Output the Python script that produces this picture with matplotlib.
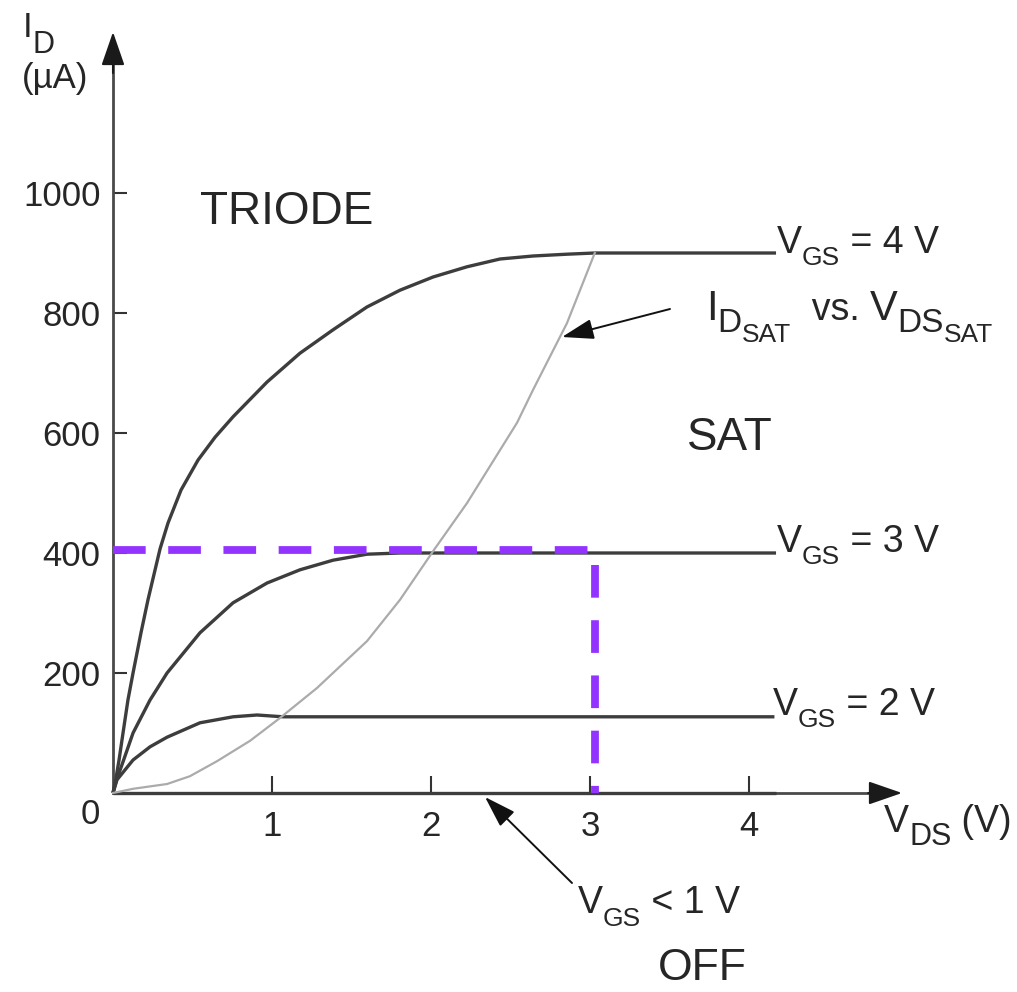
import matplotlib
matplotlib.use("Agg")
import matplotlib.pyplot as plt
from matplotlib.transforms import offset_copy

plt.rcParams['font.family'] = ['Liberation Sans', 'DejaVu Sans']

# ---------------- data ----------------
vds_vgs4 = [0, 0.019, 0.038, 0.063, 0.094, 0.126, 0.176, 0.220, 0.245, 0.296, 0.346,
            0.428, 0.535, 0.642, 0.755, 0.969, 1.176, 1.384, 1.597, 1.805, 2.013,
            2.226, 2.434, 2.642, 2.855, 3.03, 4.17]
id_vgs4 = [0, 25, 55, 100, 155, 200, 267, 322, 350, 407, 450,
           505, 555, 593, 627, 685, 733, 772, 810, 838, 860,
           877, 890, 895, 898, 900, 900]

vds_vgs3 = [0, 0.02, 0.063, 0.126, 0.233, 0.340, 0.547, 0.755, 0.969, 1.176,
            1.384, 1.597, 1.805, 4.17]
id_vgs3 = [0, 20, 52, 100, 155, 200, 267, 317, 350, 372,
           388, 398, 400, 400]

vds_vgs2 = [0, 0.025, 0.126, 0.233, 0.340, 0.547, 0.755, 0.906, 1.069, 4.16]
id_vgs2 = [0, 22, 55, 77, 93, 117, 127, 130, 127, 127]

vds_off = [0, 4.17]
id_off = [0, 0]

vds_sat = [0, 0.126, 0.340, 0.484, 0.654, 0.862, 1.050, 1.283, 1.472, 1.597,
           1.805, 2.013, 2.226, 2.541, 2.642, 2.855, 3.03]
id_sat = [0, 7, 15, 28, 53, 87, 125, 175, 222, 253,
          322, 403, 483, 617, 672, 783, 900]

op_vds = 3.03
op_id = 405

x_ticks = [1, 2, 3, 4]
x_tick_labels = ['1', '2', '3', '4']
y_ticks = [200, 400, 600, 800, 1000]
y_tick_labels = ['200', '400', '600', '800', '1000']

# ---------------- figure ----------------
W, H, DPI = 1017, 992, 100
X0, Y0 = 113, 793            # pixel position of the origin
PX_X, PX_Y = 159.0, 0.6      # pixels per unit

fig = plt.figure(figsize=(W / DPI, H / DPI), dpi=DPI)
ax = fig.add_axes([0, 0, 1, 1])
ax.set_xlim(-X0 / PX_X, (W - X0) / PX_X)
ax.set_ylim((Y0 - H) / PX_Y, Y0 / PX_Y)

TXT = '#262626'
CURVE = '#3d3d3d'
AXC = '#4a4a4a'
PURPLE = '#9333ff'

for s in ['top', 'right']:
    ax.spines[s].set_visible(False)
ax.spines['left'].set_position(('data', 0))
ax.spines['bottom'].set_position(('data', 0))
ax.spines['left'].set_bounds(0, 1235)
ax.spines['bottom'].set_bounds(0, 4.85)
for s in ['left', 'bottom']:
    ax.spines[s].set_color(AXC)
    ax.spines[s].set_linewidth(2.0)

# axis arrowheads
arrow_kw = dict(arrowstyle='-|>,head_length=1.3,head_width=0.45', color='#1a1a1a',
                lw=1.5, mutation_scale=16, shrinkA=0, shrinkB=0)
ax.annotate('', xy=(0, (Y0 - 32) / PX_Y), xytext=(0, 1200), arrowprops=arrow_kw,
            annotation_clip=False)
ax.annotate('', xy=((902 - X0) / PX_X, 0), xytext=(4.75, 0), arrowprops=arrow_kw,
            annotation_clip=False)

ax.set_xticks(x_ticks)
ax.set_xticklabels(x_tick_labels)
ax.set_yticks(y_ticks)
ax.set_yticklabels(y_tick_labels)
ax.tick_params(axis='x', direction='in', length=12, width=1.5, color='#333333',
               pad=12, labelsize=25, labelcolor=TXT)
ax.tick_params(axis='y', direction='in', length=10, width=1.5, color='#333333',
               pad=9, labelsize=25, labelcolor=TXT)
ax.text(-23 / PX_X, -22 / PX_Y, '0', fontsize=25, color=TXT, ha='center', va='center')

# curves
ax.plot(vds_off, id_off, color=CURVE, lw=2.4, solid_capstyle='butt', zorder=3)
ax.plot(vds_vgs2, id_vgs2, color=CURVE, lw=2.4, solid_capstyle='butt', zorder=3)
ax.plot(vds_vgs3, id_vgs3, color=CURVE, lw=2.4, solid_capstyle='butt', zorder=3)
ax.plot(vds_vgs4, id_vgs4, color=CURVE, lw=2.4, solid_capstyle='butt', zorder=3)
ax.plot(vds_sat, id_sat, color='#ababab', lw=1.6, zorder=4)

# operating point dashed purple lines
ax.plot([0, op_vds, op_vds], [op_id, op_id, 0], color=PURPLE, lw=5.6,
        dashes=(4.2, 2.9), zorder=5, solid_joinstyle='miter')

renderer = fig.canvas.get_renderer()


def rich(x, y, pieces):
    """pieces: (text, fontsize, baseline offset in pixels)"""
    dx = 0.0
    for s, size, dy_px in pieces:
        tr = offset_copy(ax.transData, fig=fig, x=dx, y=dy_px * 72.0 / DPI, units='points')
        t = ax.text(x, y, s, fontsize=size, transform=tr, ha='left', va='baseline',
                    color=TXT)
        dx += t.get_window_extent(renderer).width * 72.0 / DPI


def px(xp, yp):
    return (xp - X0) / PX_X, (Y0 - yp) / PX_Y


# axis labels
rich(*px(23, 37), [('I', 25, 0), ('D', 22, -16)])
rich(*px(22, 88), [('(\u00b5A)', 25, 0)])
rich(*px(884, 832), [('V', 27, 0), ('DS', 22, -13), (' (V)', 27, 0)])

# curve labels
rich(*px(777, 253), [('V', 27, 0), ('GS', 19, -12), (' = 4 V', 27, 0)])
rich(*px(777, 552), [('V', 27, 0), ('GS', 19, -12), (' = 3 V', 27, 0)])
rich(*px(773, 715), [('V', 27, 0), ('GS', 19, -12), (' = 2 V', 27, 0)])
rich(*px(578, 913), [('V', 27, 0), ('GS', 19, -13), (' < 1 V', 27, 0)])
rich(*px(706, 320), [('I', 30, 0), ('D', 24, -12), ('SAT', 19, -22),
                     ('  vs. ', 27, 0), ('V', 30, 0), ('DS', 24, -12), ('SAT', 19, -22)])

# region labels
ax.text(*px(200, 224), 'TRIODE', fontsize=33, color=TXT, ha='left', va='baseline')
ax.text(*px(687, 450), 'SAT', fontsize=33, color=TXT, ha='left', va='baseline')
ax.text(*px(658, 980), 'OFF', fontsize=32, color=TXT, ha='left', va='baseline')

# pointer arrows
ptr_kw = dict(arrowstyle='-|>,head_length=1.4,head_width=0.45', color='#111111',
              lw=1.4, mutation_scale=14, shrinkA=0, shrinkB=0)
ax.annotate('', xy=px(562, 337), xytext=px(670, 309), arrowprops=ptr_kw)
ax.annotate('', xy=px(485, 797), xytext=px(572, 883), arrowprops=ptr_kw)

fig.savefig('out.png', dpi=DPI)
